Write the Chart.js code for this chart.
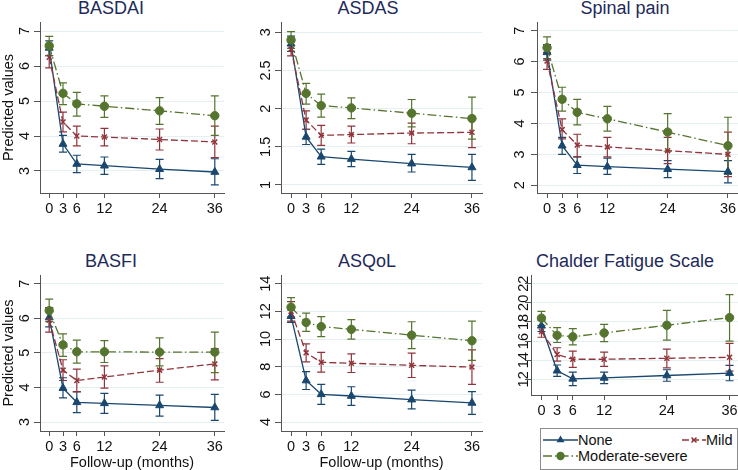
<!DOCTYPE html>
<html>
<head>
<meta charset="utf-8">
<script src="https://cdn.jsdelivr.net/npm/chart.js@4.4.1/dist/chart.umd.min.js"></script>
<style>
  html, body { margin: 0; padding: 0; background: #fff; }
  body { width: 738px; height: 470px; position: relative; overflow: hidden; font-family: "Liberation Sans", Arial, sans-serif; }
  canvas { position: absolute; }
  .ptitle { position: absolute; font-size: 18px; line-height: 1; color: #1e2a5a; transform: translate(-50%, -50%); white-space: nowrap; }
  #legend { position: absolute; left: 540px; top: 428px; width: 196px; height: 40px; border: 1px solid #8c8c8c; background: #fff; }
  #legend span { position: absolute; font-size: 14.5px; line-height: 1; color: #111; transform: translateY(-50%); white-space: nowrap; }
  #legend svg { position: absolute; left: 0; top: 0; }
</style>
</head>
<body>
<div id="legend"></div>
<script>
// follow-up months and x tick labels
const months = [0, 3, 6, 12, 24, 36];
const seriesNames = ['None', 'Mild', 'Moderate-severe'];

// BASDAI
const basdaiTicks = [3, 4, 5, 6, 7];
const basdaiNone = [6.52, 3.77, 3.2, 3.15, 3.05, 2.97];
const basdaiNoneCI = [[6.3, 6.72], [3.54, 4.02], [2.95, 3.45], [2.9, 3.4], [2.78, 3.33], [2.6, 3.35]];
const basdaiMild = [6.25, 4.4, 4.0, 3.97, 3.9, 3.83];
const basdaiMildCI = [[5.95, 6.55], [4.12, 4.68], [3.72, 4.28], [3.72, 4.22], [3.6, 4.2], [3.38, 4.28]];
const basdaiMod = [6.58, 5.22, 4.92, 4.85, 4.72, 4.58];
const basdaiModCI = [[6.3, 6.85], [4.9, 5.52], [4.57, 5.25], [4.53, 5.15], [4.33, 5.1], [4.02, 5.15]];

// ASDAS
const asdasTicks = [1, 1.5, 2, 2.5, 3];
const asdasNone = [2.85, 1.63, 1.37, 1.34, 1.28, 1.23];
const asdasNoneCI = [[2.75, 2.95], [1.53, 1.73], [1.27, 1.47], [1.24, 1.44], [1.17, 1.4], [1.06, 1.4]];
const asdasMild = [2.78, 1.85, 1.65, 1.66, 1.68, 1.69];
const asdasMildCI = [[2.69, 2.87], [1.73, 1.97], [1.52, 1.78], [1.55, 1.77], [1.54, 1.81], [1.49, 1.9]];
const asdasMod = [2.9, 2.2, 2.04, 2.01, 1.94, 1.87];
const asdasModCI = [[2.79, 3.01], [2.06, 2.33], [1.89, 2.19], [1.87, 2.14], [1.76, 2.12], [1.6, 2.15]];

// Spinal pain
const spinalTicks = [2, 3, 4, 5, 6, 7];
const spinalNone = [6.3, 3.28, 2.65, 2.6, 2.52, 2.44];
const spinalNoneCI = [[6.05, 6.55], [3.0, 3.55], [2.38, 2.92], [2.35, 2.88], [2.25, 2.8], [2.08, 2.8]];
const spinalMild = [6.02, 3.8, 3.3, 3.24, 3.12, 3.0];
const spinalMildCI = [[5.75, 6.3], [3.5, 4.15], [2.92, 3.65], [2.92, 3.55], [2.7, 3.55], [2.28, 3.72]];
const spinalMod = [6.45, 4.78, 4.36, 4.15, 3.72, 3.28];
const spinalModCI = [[6.1, 6.8], [4.4, 5.17], [3.95, 4.78], [3.75, 4.55], [3.1, 4.32], [2.35, 4.2]];

// BASFI
const basfiTicks = [3, 4, 5, 6, 7];
const basfiNone = [6.02, 3.98, 3.57, 3.54, 3.48, 3.42];
const basfiNoneCI = [[5.75, 6.3], [3.7, 4.28], [3.27, 3.88], [3.25, 3.83], [3.17, 3.78], [3.05, 3.8]];
const basfiMild = [5.95, 4.5, 4.2, 4.3, 4.5, 4.68];
const basfiMildCI = [[5.6, 6.3], [4.2, 4.8], [3.87, 4.53], [3.98, 4.62], [4.15, 4.83], [4.22, 5.12]];
const basfiMod = [6.22, 5.23, 5.03, 5.03, 5.02, 5.02];
const basfiModCI = [[5.9, 6.55], [4.9, 5.55], [4.7, 5.37], [4.72, 5.35], [4.62, 5.43], [4.43, 5.6]];

// ASQoL
const asqolTicks = [4, 6, 8, 10, 12, 14];
const asqolNone = [11.65, 7.0, 6.0, 5.88, 5.62, 5.38];
const asqolNoneCI = [[11.2, 12.1], [6.35, 7.65], [5.28, 6.72], [5.2, 6.55], [4.95, 6.3], [4.55, 6.2]];
const asqolMild = [12.0, 9.0, 8.32, 8.25, 8.1, 7.97];
const asqolMildCI = [[11.3, 12.7], [8.35, 9.65], [7.6, 9.03], [7.58, 8.92], [7.22, 8.98], [6.72, 9.22]];
const asqolMod = [12.3, 11.2, 10.9, 10.7, 10.28, 9.88];
const asqolModCI = [[11.6, 13.0], [10.55, 11.88], [10.18, 11.62], [10.0, 11.4], [9.3, 11.25], [8.45, 11.3]];

// Chalder Fatigue Scale
const chalderTicks = [12, 14, 16, 18, 20, 22];
const chalderNone = [17.6, 12.9, 12.05, 12.15, 12.4, 12.65];
const chalderNoneCI = [[17.0, 18.2], [12.3, 13.5], [11.35, 12.75], [11.55, 12.75], [11.8, 13.0], [11.85, 13.45]];
const chalderMild = [17.0, 14.6, 14.1, 14.1, 14.2, 14.3];
const chalderMildCI = [[16.4, 17.6], [13.9, 15.3], [13.25, 14.95], [13.35, 14.85], [13.2, 15.15], [12.85, 15.75]];
const chalderMod = [18.4, 16.6, 16.45, 16.85, 17.65, 18.45];
const chalderModCI = [[17.65, 19.1], [15.85, 17.4], [15.6, 17.3], [15.95, 17.75], [16.1, 19.2], [16.0, 20.85]];

const FONT = '"Liberation Sans", Arial, sans-serif';
const colors = ['#1a476f', '#90353b', '#55752f'];

// panel layout: canvas box, plot box, axis range
const panels = [
  { title: 'BASDAI', tx: 111, ty: 8, c: [0, 14, 232, 216], p: [40, 22, 224, 193], y: [2.37, 7.26], ticks: basdaiTicks,
    data: [basdaiNone, basdaiMild, basdaiMod], ci: [basdaiNoneCI, basdaiMildCI, basdaiModCI], gap: 11.5, yTitle: true },
  { title: 'ASDAS', tx: 368, ty: 8, c: [250, 14, 240, 216], p: [281, 22, 482, 193], y: [0.895, 3.135], ticks: asdasTicks,
    data: [asdasNone, asdasMild, asdasMod], ci: [asdasNoneCI, asdasMildCI, asdasModCI], gap: 11 },
  { title: 'Spinal pain', tx: 625, ty: 8, c: [500, 14, 246, 216], p: [537, 22, 738, 193], y: [1.75, 7.28], ticks: spinalTicks,
    data: [spinalNone, spinalMild, spinalMod], ci: [spinalNoneCI, spinalMildCI, spinalModCI], gap: 13.5 },
  { title: 'BASFI', tx: 111, ty: 261, c: [0, 267, 232, 205], p: [40, 275, 224, 431], y: [2.74, 7.25], ticks: basfiTicks,
    data: [basfiNone, basfiMild, basfiMod], ci: [basfiNoneCI, basfiMildCI, basfiModCI], gap: 11.5, yTitle: true, xTitle: true },
  { title: 'ASQoL', tx: 367, ty: 261, c: [250, 267, 240, 205], p: [281, 275, 482, 431], y: [3.35, 14.63], ticks: asqolTicks,
    data: [asqolNone, asqolMild, asqolMod], ci: [asqolNoneCI, asqolMildCI, asqolModCI], gap: 11, xTitle: true },
  { title: 'Chalder Fatigue Scale', tx: 625, ty: 261, c: [495, 267, 253, 205], p: [531, 275, 740, 395], y: [10.36, 22.91], ticks: chalderTicks,
    data: [chalderNone, chalderMild, chalderMod], ci: [chalderNoneCI, chalderMildCI, chalderModCI], gap: 3 }
];

// error bars (rcap) drawn under the lines/markers
const errorBarPlugin = {
  id: 'errorBars',
  beforeDatasetsDraw(chart) {
    const ctx = chart.ctx;
    const ys = chart.scales.y;
    ctx.save();
    chart.data.datasets.forEach((ds, i) => {
      const meta = chart.getDatasetMeta(i);
      ctx.strokeStyle = ds.borderColor;
      ctx.lineWidth = 1.2;
      ds.errorBars.forEach((ci, j) => {
        const x = meta.data[j].x;
        const y1 = ys.getPixelForValue(ci[0]);
        const y2 = ys.getPixelForValue(ci[1]);
        ctx.beginPath();
        ctx.moveTo(x, y1); ctx.lineTo(x, y2);
        ctx.moveTo(x - 4, y1); ctx.lineTo(x + 4, y1);
        ctx.moveTo(x - 4, y2); ctx.lineTo(x + 4, y2);
        ctx.stroke();
      });
    });
    ctx.restore();
  }
};

// vertical y tick labels, like Stata
const yLabelPlugin = {
  id: 'yLabels',
  afterDraw(chart, args, opts) {
    const ctx = chart.ctx;
    const ys = chart.scales.y;
    ctx.save();
    ctx.font = '14.5px ' + FONT;
    ctx.fillStyle = '#111';
    ctx.textAlign = 'center';
    ctx.textBaseline = 'alphabetic';
    ys.ticks.forEach(t => {
      ctx.save();
      ctx.translate(chart.chartArea.left - opts.gap, ys.getPixelForValue(t.value));
      ctx.rotate(-Math.PI / 2);
      ctx.fillText(String(t.value), 0, 0);
      ctx.restore();
    });
    ctx.restore();
  }
};

const pointStyles = ['triangle', 'crossRot', 'circle'];
const pointRadius = [4.6, 3.5, 4.2];
const dashes = [[], [7, 3], [9, 3, 1.5, 3]];

panels.forEach((pn, k) => {
  const [cl, ct, cw, ch] = pn.c;
  const [pl, pt, pr, pb] = pn.p;

  const t = document.createElement('div');
  t.className = 'ptitle';
  t.style.left = pn.tx + 'px';
  t.style.top = pn.ty + 'px';
  t.textContent = pn.title;
  document.body.appendChild(t);

  const cv = document.createElement('canvas');
  cv.width = cw; cv.height = ch;
  cv.style.left = cl + 'px'; cv.style.top = ct + 'px';
  document.body.appendChild(cv);

  const datasets = pn.data.map((vals, i) => ({
    label: seriesNames[i],
    data: months.map((m, j) => ({ x: m, y: vals[j] })),
    errorBars: pn.ci[i],
    borderColor: colors[i],
    backgroundColor: colors[i],
    pointBackgroundColor: colors[i],
    pointBorderColor: colors[i],
    pointStyle: pointStyles[i],
    pointRadius: pointRadius[i],
    pointBorderWidth: i === 1 ? 1.5 : 1,
    borderWidth: 1.3,
    borderDash: dashes[i],
    tension: 0,
    order: 2 - i
  }));

  new Chart(cv, {
    type: 'line',
    data: { datasets },
    plugins: [errorBarPlugin, yLabelPlugin],
    options: {
      responsive: false,
      animation: false,
      devicePixelRatio: 1,
      layout: { padding: { left: 0, top: pt - ct, right: cl + cw - pr, bottom: 0 } },
      plugins: { legend: { display: false }, tooltip: { enabled: false }, yLabels: { gap: pn.gap } },
      scales: {
        x: {
          type: 'linear', min: -2, max: 38, bounds: 'data',
          afterBuildTicks: s => { s.ticks = months.map(v => ({ value: v })); },
          afterFit: s => { s.height = ct + ch - pb; },
          grid: { drawOnChartArea: false, tickLength: 5, tickColor: '#555' },
          border: { color: '#555', width: 1 },
          ticks: { autoSkip: false, maxRotation: 0, padding: 2, color: '#111', font: { family: FONT, size: 14.5 } },
          title: { display: !!pn.xTitle, text: 'Follow-up (months)', color: '#111', padding: 0, font: { family: FONT, size: 14.5 } }
        },
        y: {
          type: 'linear', min: pn.y[0], max: pn.y[1], bounds: 'data',
          afterBuildTicks: s => { s.ticks = pn.ticks.map(v => ({ value: v })); },
          afterFit: s => { s.width = pl - cl; },
          grid: { color: '#e4eff2', lineWidth: 1, tickLength: 6, tickColor: '#555' },
          border: { color: '#555', width: 1 },
          ticks: { display: false },
          title: { display: !!pn.yTitle, text: 'Predicted values', color: '#111', padding: 0, font: { family: FONT, size: 14.5 } }
        }
      }
    }
  });
});

// legend box (bottom right)
const legend = document.getElementById('legend');
const ox = 541, oy = 429;
const sw = (x1, x2, y, i) => {
  const cx = (x1 + x2) / 2 - ox, cy = y - oy;
  let mark = '';
  if (i === 0) mark = `<polygon points="${cx},${cy - 4.6} ${cx + 4},${cy + 2.3} ${cx - 4},${cy + 2.3}" fill="${colors[0]}"/>`;
  if (i === 1) mark = `<path d="M${cx - 2.5},${cy - 2.5}L${cx + 2.5},${cy + 2.5}M${cx - 2.5},${cy + 2.5}L${cx + 2.5},${cy - 2.5}" stroke="${colors[1]}" stroke-width="1.5"/>`;
  if (i === 2) mark = `<circle cx="${cx}" cy="${cy}" r="4.2" fill="${colors[2]}"/>`;
  const dash = dashes[i].length ? `stroke-dasharray="${dashes[i].join(' ')}"` : '';
  return `<line x1="${x1 - ox}" y1="${cy}" x2="${x2 - ox}" y2="${cy}" stroke="${colors[i]}" stroke-width="1.3" ${dash}/>` + mark;
};
legend.innerHTML =
  `<svg width="196" height="40">${sw(543, 578, 440, 0)}${sw(682, 706, 440, 1)}${sw(543, 578, 456, 2)}</svg>` +
  `<span style="left:${578 - ox}px;top:${440 - oy}px">${seriesNames[0]}</span>` +
  `<span style="left:${706 - ox}px;top:${440 - oy}px">${seriesNames[1]}</span>` +
  `<span style="left:${578 - ox}px;top:${456 - oy}px">${seriesNames[2]}</span>`;
</script>
</body>
</html>
